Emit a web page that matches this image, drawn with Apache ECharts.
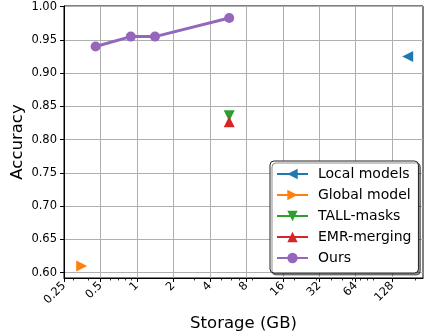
<!DOCTYPE html>
<html><head><meta charset="utf-8">
<script src="https://cdn.jsdelivr.net/npm/echarts@6/dist/echarts.min.js"></script>
<style>html,body{margin:0;padding:0;background:#fff}#c{width:425px;height:333px}</style>
</head><body><div id="c"></div>
<script>
// ---- data ----
const xTicks = [0.25, 0.5, 1, 2, 4, 8, 16, 32, 64, 128];
const xMinorTicks = [0.3, 0.4, 0.6, 0.7, 0.8, 0.9, 3, 5, 6, 7, 9, 20, 30, 40, 50, 60, 70, 80, 90, 200];
const yTicks = [0.60, 0.65, 0.70, 0.75, 0.80, 0.85, 0.90, 0.95, 1.00];
const seriesNames = ['Local models', 'Global model', 'TALL-masks', 'EMR-merging', 'Ours'];
const localModels = [[172, 0.925]];
const globalModel = [[0.35, 0.610]];
const tallMasks = [[5.78, 0.836]];
const emrMerging = [[5.78, 0.827]];
const oursStorage = [0.456, 0.89, 1.41, 5.78];
const oursAccuracy = [0.940, 0.955, 0.955, 0.983];

const FONT = 'DejaVu Sans';
const ours = oursStorage.map((s, i) => [s, oursAccuracy[i]]);

const triLeft = 'path://M0,5L10,0L10,10Z';
const triRight = 'path://M10,5L0,0L0,10Z';
const triDown = 'path://M0,0L10,0L5,10Z';
const triUp = 'path://M5,0L10,10L0,10Z';

function single(name, data, color, symbol) {
  return {
    name, type: 'line', xAxisIndex: 0, yAxisIndex: 0, data,
    symbol, symbolSize: 11, showSymbol: true,
    lineStyle: { color, width: 1.5 },
    itemStyle: { color },
    emphasis: { disabled: true }, animation: false, z: 3
  };
}

const chart = echarts.init(document.getElementById('c'), null, { renderer: 'canvas' });
chart.setOption({
  animation: false,
  backgroundColor: '#ffffff',
  grid: { left: 64, right: 2, top: 6, bottom: 55, show: true, borderColor: '#000', borderWidth: 1, backgroundColor: 'transparent', containLabel: false, outerBoundsMode: 'none' },
  xAxis: [{
    type: 'log', logBase: 2, min: 0.25, max: 230,
    name: 'Storage (GB)', nameLocation: 'middle', nameGap: 37,
    nameTextStyle: { fontFamily: FONT, fontSize: 16.5, color: '#000' },
    axisLine: { show: true, lineStyle: { color: '#000', width: 1 } },
    axisTick: { show: true, length: 4, lineStyle: { color: '#000', width: 1 }, customValues: xTicks },
    axisLabel: { customValues: xTicks, rotate: 45, margin: 6, fontFamily: FONT, fontSize: 11.5, color: '#000', formatter: v => String(v) },
    splitLine: { show: true, lineStyle: { color: '#b0b0b0', width: 1 } },
    minorTick: { show: false }, minorSplitLine: { show: false }
  }, {
    type: 'log', logBase: 2, min: 0.25, max: 230, position: 'bottom', gridIndex: 0, offset: 0,
    axisLine: { show: false },
    axisTick: { show: true, length: 2.5, lineStyle: { color: '#000', width: 0.8 }, customValues: xMinorTicks },
    axisLabel: { show: false },
    splitLine: { show: false }
  }],
  yAxis: {
    type: 'value', min: 0.592, max: 1.001,
    name: 'Accuracy', nameLocation: 'middle', nameGap: 38, nameMoveOverlap: false,
    nameTextStyle: { fontFamily: FONT, fontSize: 16.5, color: '#000' },
    axisLine: { show: true, lineStyle: { color: '#000', width: 1 } },
    axisTick: { show: true, length: 4, lineStyle: { color: '#000', width: 1 }, customValues: yTicks },
    axisLabel: { customValues: yTicks, margin: 7, fontFamily: FONT, fontSize: 11.5, color: '#000', formatter: v => v.toFixed(2) },
    splitLine: { show: true, lineStyle: { color: '#b0b0b0', width: 1 } }
  },
  legend: {
    data: seriesNames,
    orient: 'vertical', left: 270, top: 161,
    itemWidth: 31, itemHeight: 13, itemGap: 7,
    padding: [6, 7, 8, 6],
    backgroundColor: '#fff', borderColor: '#222', borderWidth: 1, borderRadius: 4,
    shadowColor: 'rgba(0,0,0,0.45)', shadowBlur: 0, shadowOffsetX: 2, shadowOffsetY: 2,
    textStyle: { fontFamily: FONT, fontSize: 14, color: '#000', padding: [0, 0, 0, 5], lineHeight: 14 },
    selectedMode: false
  },
  series: [
    single(seriesNames[0], localModels, '#1f77b4', triLeft),
    single(seriesNames[1], globalModel, '#ff7f0e', triRight),
    single(seriesNames[2], tallMasks, '#2ca02c', triDown),
    single(seriesNames[3], emrMerging, '#d62728', triUp),
    {
      name: seriesNames[4], type: 'line', data: ours,
      symbol: 'circle', symbolSize: 10, showSymbol: true,
      lineStyle: { color: '#9467bd', width: 3 },
      itemStyle: { color: '#9467bd' },
      emphasis: { disabled: true }, z: 4
    }
  ]
});
</script></body></html>
